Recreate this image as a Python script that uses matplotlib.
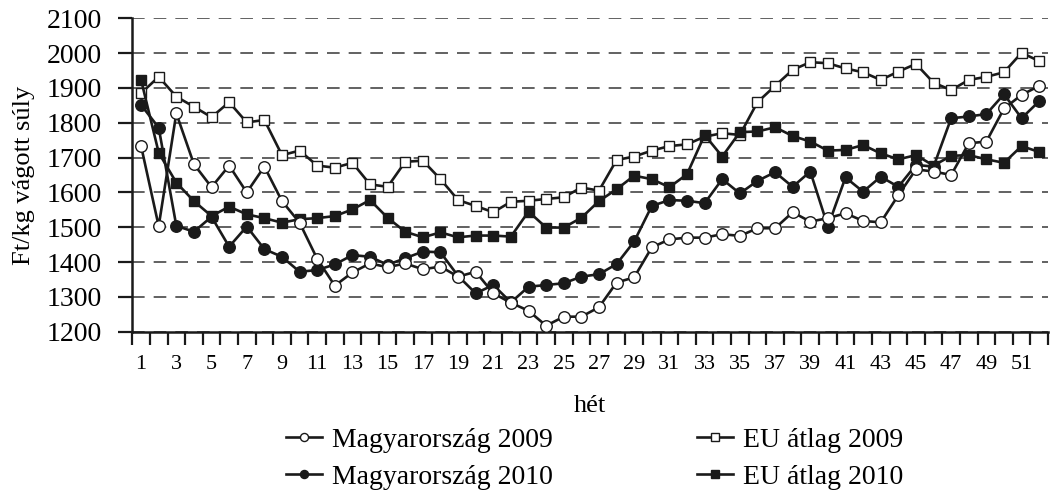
import matplotlib.pyplot as plt
from matplotlib.ticker import FixedLocator

plt.rcParams['font.family'] = ['Liberation Serif', 'DejaVu Serif']

weeks = list(range(1, 53))

hu_2009 = [1733, 1503, 1827, 1681, 1615, 1677, 1600, 1674, 1575, 1513,
           1409, 1332, 1370, 1396, 1385, 1396, 1379, 1387, 1358, 1372,
           1310, 1283, 1260, 1217, 1243, 1243, 1270, 1341, 1356, 1442,
           1465, 1470, 1470, 1480, 1475, 1497, 1497, 1543, 1516, 1526,
           1540, 1518, 1514, 1592, 1666, 1660, 1650, 1741, 1746, 1841,
           1880, 1906]
hu_2010 = [1851, 1786, 1504, 1487, 1530, 1444, 1502, 1437, 1415, 1372,
           1377, 1393, 1420, 1415, 1392, 1411, 1430, 1428, 1360, 1310,
           1334, 1284, 1329, 1334, 1339, 1358, 1365, 1394, 1459, 1561,
           1578, 1576, 1569, 1638, 1597, 1633, 1658, 1616, 1660, 1502,
           1643, 1602, 1645, 1616, 1679, 1674, 1813, 1818, 1825, 1882,
           1813, 1862]
eu_2009 = [1885, 1932, 1875, 1846, 1816, 1859, 1801, 1808, 1707, 1720,
           1677, 1671, 1685, 1623, 1616, 1688, 1691, 1638, 1578, 1561,
           1543, 1573, 1576, 1581, 1586, 1614, 1605, 1693, 1703, 1720,
           1733, 1738, 1760, 1770, 1765, 1859, 1906, 1952, 1974, 1971,
           1956, 1945, 1923, 1947, 1969, 1915, 1894, 1923, 1932, 1945,
           2001, 1977]
eu_2010 = [1923, 1714, 1628, 1575, 1532, 1559, 1537, 1526, 1513, 1523,
           1526, 1532, 1551, 1578, 1527, 1487, 1471, 1485, 1471, 1476,
           1476, 1473, 1545, 1499, 1499, 1527, 1575, 1609, 1648, 1638,
           1615, 1652, 1765, 1703, 1773, 1775, 1787, 1762, 1746, 1720,
           1722, 1736, 1712, 1695, 1707, 1677, 1705, 1707, 1695, 1685,
           1733, 1716]

labels = ['Magyarország 2009', 'Magyarország 2010', 'EU átlag 2009', 'EU átlag 2010']
blk = '#1a1a1a'

fig = plt.figure(figsize=(10.6, 4.95), dpi=100)
ax = fig.add_axes([0.1248, 0.330, 0.8639, 0.633])

l_eu9, = ax.plot(weeks, eu_2009, color=blk, lw=1.9, marker='s', ms=7.5,
                 mfc='white', mec=blk, mew=1.0, zorder=3)
l_eu10, = ax.plot(weeks, eu_2010, color=blk, lw=1.9, marker='s', ms=7.5,
                  mfc=blk, mec=blk, mew=1.0, zorder=4)
l_hu10, = ax.plot(weeks, hu_2010, color=blk, lw=1.9, marker='o', ms=8.3,
                  mfc=blk, mec=blk, mew=1.0, zorder=5)
l_hu9, = ax.plot(weeks, hu_2009, color=blk, lw=1.9, marker='o', ms=8.3,
                 mfc='white', mec=blk, mew=1.0, zorder=6)

ax.set_xlim(0.5, 52.5)
ax.set_ylim(1200, 2100)
ax.set_yticks(range(1200, 2101, 100))
ax.yaxis.grid(True, color='#555555', lw=1.3, ls=(0, (7, 5)))
ax.set_axisbelow(True)

ax.xaxis.set_major_locator(FixedLocator(list(range(1, 53, 2))))
ax.xaxis.set_minor_locator(FixedLocator([w + 0.5 for w in range(0, 53)]))
ax.tick_params(axis='x', which='major', length=0, pad=17, labelsize=16)
ax.tick_params(axis='x', which='minor', length=9, width=1.6, direction='out', color=blk)
ax.tick_params(axis='y', length=10, width=1.6, direction='out', pad=12,
               labelsize=20, color=blk)

for s in ['top', 'right']:
    ax.spines[s].set_visible(False)
for s in ['left', 'bottom']:
    ax.spines[s].set_linewidth(1.8)
    ax.spines[s].set_color(blk)

ax.set_xlabel('hét', fontsize=19, labelpad=15)
ax.set_ylabel('Ft/kg vágott súly', fontsize=19, labelpad=8)

leg = ax.legend([l_hu9, l_hu10, l_eu9, l_eu10], labels, ncol=2,
                loc='upper center', bbox_to_anchor=(0.505, -0.27),
                frameon=False, fontsize=20, markerscale=0.7,
                handlelength=1.3, handletextpad=0.35, columnspacing=5.2,
                labelspacing=0.42, borderaxespad=0)

fig.savefig('out.png', dpi=100)
